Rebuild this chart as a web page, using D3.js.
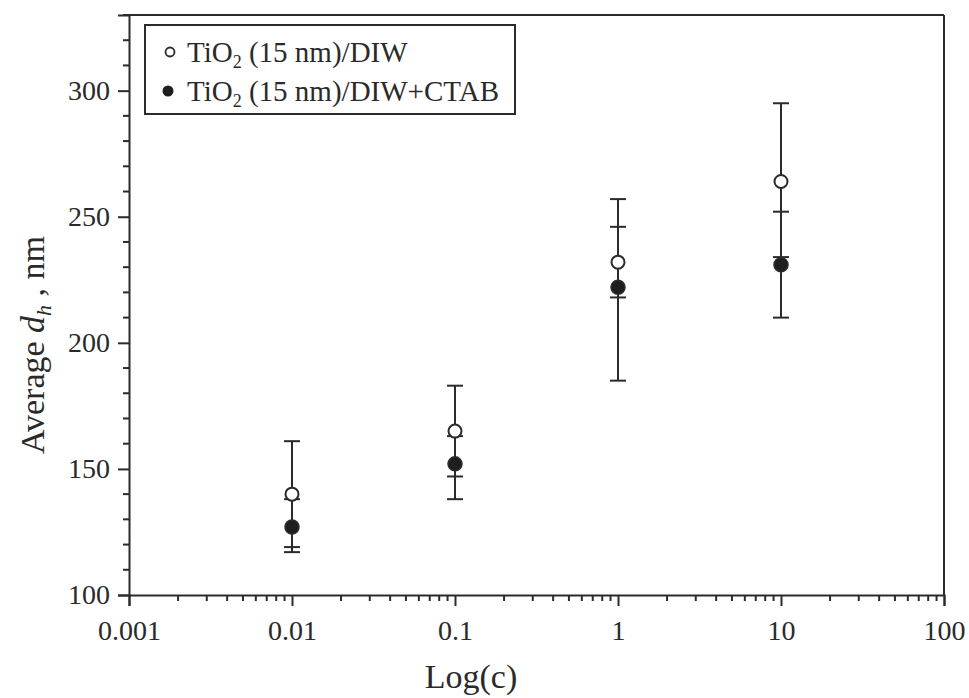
<!DOCTYPE html>
<html>
<head>
<meta charset="utf-8">
<script src="https://cdn.jsdelivr.net/npm/d3@7/dist/d3.min.js"></script>
<style>
  html, body { margin: 0; padding: 0; background: #ffffff; }
  svg { display: block; }
  text { font-family: "Liberation Serif", "DejaVu Serif", serif; fill: #2a2a2a; }
</style>
</head>
<body>
<svg id="chart" width="969" height="698"></svg>
<script>
// Concentration (x) and mean hydrodynamic diameter with error-bar bounds
const conc = [0.01, 0.1, 1, 10];
const dhDIW = [140, 165, 232, 264];
const dhDIWLow = [119, 147, 218, 234];
const dhDIWHigh = [161, 183, 246, 295];
const dhCTAB = [127, 152, 222, 231];
const dhCTABLow = [117, 138, 185, 210];
const dhCTABHigh = [138, 163, 257, 252];

const xTicks = [0.001, 0.01, 0.1, 1, 10, 100];
const xTickLabels = ["0.001", "0.01", "0.1", "1", "10", "100"];
const yTicks = [100, 150, 200, 250, 300];

const ink = "#2b2b2b";
const svg = d3.select("#chart");

const plot = { left: 129, right: 944, top: 15, bottom: 595 };

const x = d3.scaleLog().domain([0.001, 100]).range([plot.left, plot.right]);
const y = d3.scaleLinear().domain([100, 330]).range([plot.bottom, plot.top]);

// Frame: top and right edges
svg.append("line").attr("x1", plot.left).attr("x2", plot.right)
  .attr("y1", plot.top).attr("y2", plot.top)
  .attr("stroke", ink).attr("stroke-width", 2);
svg.append("line").attr("x1", plot.right).attr("x2", plot.right)
  .attr("y1", plot.top).attr("y2", plot.bottom)
  .attr("stroke", ink).attr("stroke-width", 2);

// X axis with decade labels and log minor ticks
const xMinor = [];
for (let e = -3; e < 2; e++) {
  for (let m = 2; m <= 9; m++) xMinor.push(m * Math.pow(10, e));
}
const xAxisG = svg.append("g").attr("transform", `translate(0,${plot.bottom})`);
xAxisG.call(d3.axisBottom(x).tickValues(xTicks)
  .tickFormat((d, i) => xTickLabels[i]).tickSize(11).tickPadding(14));
xAxisG.call(g => g.select(".domain").attr("stroke", ink).attr("stroke-width", 2));
xAxisG.selectAll(".tick line").attr("stroke", ink).attr("stroke-width", 2);
xAxisG.selectAll(".tick text").attr("font-size", 28)
  .attr("font-family", "Liberation Serif").attr("fill", "#2a2a2a");
xAxisG.selectAll(".minor").data(xMinor).enter().append("line")
  .attr("class", "minor")
  .attr("x1", d => x(d)).attr("x2", d => x(d))
  .attr("y1", 0).attr("y2", 6)
  .attr("stroke", ink).attr("stroke-width", 2);

// Y axis with 50 nm labels and 10 nm minor ticks
const yMinor = d3.range(110, 331, 10).filter(v => v % 50 !== 0);
const yAxisG = svg.append("g").attr("transform", `translate(${plot.left},0)`);
yAxisG.call(d3.axisLeft(y).tickValues(yTicks).tickSize(11).tickPadding(8));
yAxisG.call(g => g.select(".domain").attr("stroke", ink).attr("stroke-width", 2));
yAxisG.selectAll(".tick line").attr("stroke", ink).attr("stroke-width", 2);
yAxisG.selectAll(".tick text").attr("font-size", 28)
  .attr("font-family", "Liberation Serif").attr("fill", "#2a2a2a");
yAxisG.selectAll(".minor").data(yMinor).enter().append("line")
  .attr("class", "minor")
  .attr("x1", 0).attr("x2", -6)
  .attr("y1", d => y(d)).attr("y2", d => y(d))
  .attr("stroke", ink).attr("stroke-width", 2);

// Axis titles
svg.append("text")
  .attr("x", 471).attr("y", 688)
  .attr("text-anchor", "middle").attr("font-size", 34)
  .text("Log(c)");

const yTitle = svg.append("text")
  .attr("transform", "translate(44,345) rotate(-90)")
  .attr("text-anchor", "middle").attr("font-size", 34);
yTitle.append("tspan").text("Average ");
yTitle.append("tspan").attr("font-style", "italic").text("d");
yTitle.append("tspan").attr("font-style", "italic").attr("font-size", 22)
  .attr("dy", 7).text("h");
yTitle.append("tspan").attr("dy", -7).text(" , nm");

// Error bars
const capHalf = 8;
function errorBars(low, high, cls) {
  const g = svg.append("g").attr("class", cls)
    .attr("stroke", ink).attr("stroke-width", 2);
  conc.forEach((c, i) => {
    const cx = x(c);
    g.append("line").attr("x1", cx).attr("x2", cx)
      .attr("y1", y(low[i])).attr("y2", y(high[i]));
    [low[i], high[i]].forEach(v => {
      g.append("line").attr("x1", cx - capHalf).attr("x2", cx + capHalf)
        .attr("y1", y(v)).attr("y2", y(v));
    });
  });
}
errorBars(dhCTABLow, dhCTABHigh, "err-ctab");
errorBars(dhDIWLow, dhDIWHigh, "err-diw");

// Markers: filled circles (DIW+CTAB), open circles (DIW)
svg.append("g").selectAll("circle").data(conc).enter().append("circle")
  .attr("cx", d => x(d)).attr("cy", (d, i) => y(dhCTAB[i]))
  .attr("r", 7).attr("fill", "#1e1e1e").attr("stroke", ink).attr("stroke-width", 1.5);
svg.append("g").selectAll("circle").data(conc).enter().append("circle")
  .attr("cx", d => x(d)).attr("cy", (d, i) => y(dhDIW[i]))
  .attr("r", 6.5).attr("fill", "#ffffff").attr("stroke", ink).attr("stroke-width", 2);

// Legend
const legend = svg.append("g");
legend.append("rect").attr("x", 145).attr("y", 25).attr("width", 370).attr("height", 89)
  .attr("fill", "#ffffff").attr("stroke", ink).attr("stroke-width", 2);
legend.append("circle").attr("cx", 170).attr("cy", 52).attr("r", 4.5)
  .attr("fill", "#ffffff").attr("stroke", ink).attr("stroke-width", 1.8);
legend.append("circle").attr("cx", 168).attr("cy", 91).attr("r", 5.5)
  .attr("fill", "#1e1e1e");
function legendText(yPos, suffix) {
  const t = legend.append("text").attr("x", 187).attr("y", yPos).attr("font-size", 29);
  t.append("tspan").text("TiO");
  t.append("tspan").attr("font-size", 18).attr("dy", 6).text("2");
  t.append("tspan").attr("dy", -6).text(suffix);
  return t;
}
legendText(62, " (15 nm)/DIW");
legendText(101, " (15 nm)/DIW+CTAB");
</script>
</body>
</html>
